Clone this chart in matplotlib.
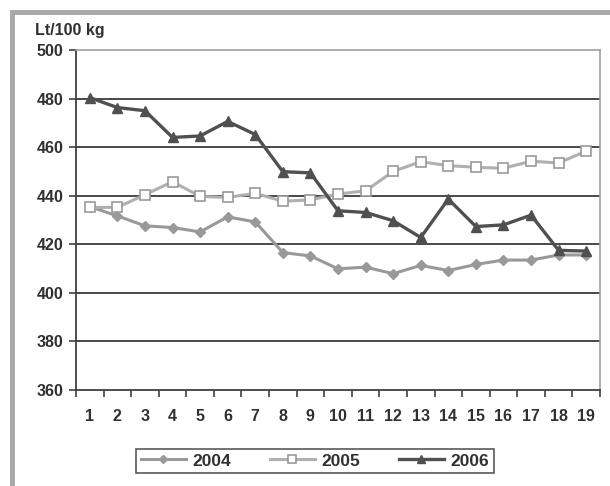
import numpy as np
import matplotlib.pyplot as plt
from matplotlib.patches import Rectangle

plt.rcParams['font.family'] = ['Liberation Sans', 'DejaVu Sans']

# x categories
periods = list(range(1, 20))
# Lt/100 kg
y2004 = [435.5, 431.7, 427.6, 426.9, 425.1, 431.3, 429.2, 416.6, 415.2, 409.9,
         410.6, 407.9, 411.3, 409.2, 411.7, 413.5, 413.5, 415.6, 415.6]
y2005 = [435.2, 435.2, 440.4, 445.8, 439.7, 439.3, 441.0, 437.7, 438.3, 440.7,
         442.0, 450.0, 454.0, 452.4, 451.7, 451.3, 454.2, 453.5, 458.4]
y2006 = [480.4, 476.3, 475.0, 464.0, 464.6, 470.6, 465.2, 449.9, 449.4, 433.8,
         433.1, 429.7, 422.8, 438.6, 427.3, 428.0, 432.0, 417.5, 417.2]
y_ticks = [360, 380, 400, 420, 440, 460, 480, 500]

fig = plt.figure(figsize=(6.10, 4.86), dpi=100)
fig.patch.set_facecolor('white')

# gray frame around the chart (runs off the right/bottom edges)
fig.patches.append(Rectangle((12 / 610, -0.05), 1.2, 1 - 12 / 486 + 0.05,
                             transform=fig.transFigure, fill=False,
                             edgecolor='#a8a8a8', linewidth=3.5))

ax = fig.add_axes([76 / 610, 1 - 390 / 486, 524 / 610, 340 / 486])

ax.plot(periods, y2004, color='#999999', lw=2.2, marker='D', ms=5,
        mfc='#999999', mec='#999999', label='2004', zorder=3)
ax.plot(periods, y2005, color='#b0b0b0', lw=2.2, marker='s', ms=7,
        mfc='white', mec='#999999', mew=1.2, label='2005', zorder=4)
ax.plot(periods, y2006, color='#505050', lw=2.4, marker='^', ms=7,
        mfc='#505050', mec='#505050', label='2006', zorder=5)

ax.set_xlim(0.5, 19.5)
ax.set_ylim(360, 500)
ax.set_yticks(y_ticks)
ax.set_yticklabels([str(v) for v in y_ticks])
ax.set_xticks(periods)
ax.set_xticklabels([str(p) for p in periods])
ax.set_xticks(np.arange(0.5, 20, 1), minor=True)

for v in y_ticks[1:-1]:
    ax.axhline(v, color='#3a3a3a', lw=1.3, zorder=1)

ax.tick_params(axis='x', which='major', length=0, pad=14,
               labelsize=11.5, labelcolor='#303030')
ax.tick_params(axis='x', which='minor', length=5, width=1.2,
               color='#404040', direction='out')
ax.tick_params(axis='y', length=5, width=1.2, color='#404040',
               labelsize=11.5, labelcolor='#303030', pad=4)
for lab in ax.get_xticklabels() + ax.get_yticklabels():
    lab.set_fontweight('bold')

ax.spines['left'].set_color('#404040')
ax.spines['bottom'].set_color('#404040')
ax.spines['left'].set_linewidth(1.3)
ax.spines['bottom'].set_linewidth(1.3)
ax.spines['top'].set_color('#a0a0a0')
ax.spines['right'].set_color('#a0a0a0')
ax.spines['top'].set_linewidth(1.2)
ax.spines['right'].set_linewidth(1.2)

fig.text(35 / 610, 1 - 30 / 486, 'Lt/100 kg', fontsize=11.5, fontweight='bold',
         color='#303030', va='center', ha='left')

handles, labels = ax.get_legend_handles_labels()
leg = fig.legend(handles, labels, loc='center',
                 bbox_to_anchor=(315 / 610, 1 - 461 / 486),
                 ncol=3, frameon=True, fancybox=False, edgecolor='#303030',
                 prop={'weight': 'bold', 'size': 12.5}, handlelength=2.6,
                 columnspacing=2.2, handletextpad=0.4, borderpad=0.25,
                 markerscale=0.85)
leg.get_frame().set_linewidth(1.2)
for t in leg.get_texts():
    t.set_color('#303030')

fig.savefig('out.png', dpi=100)
